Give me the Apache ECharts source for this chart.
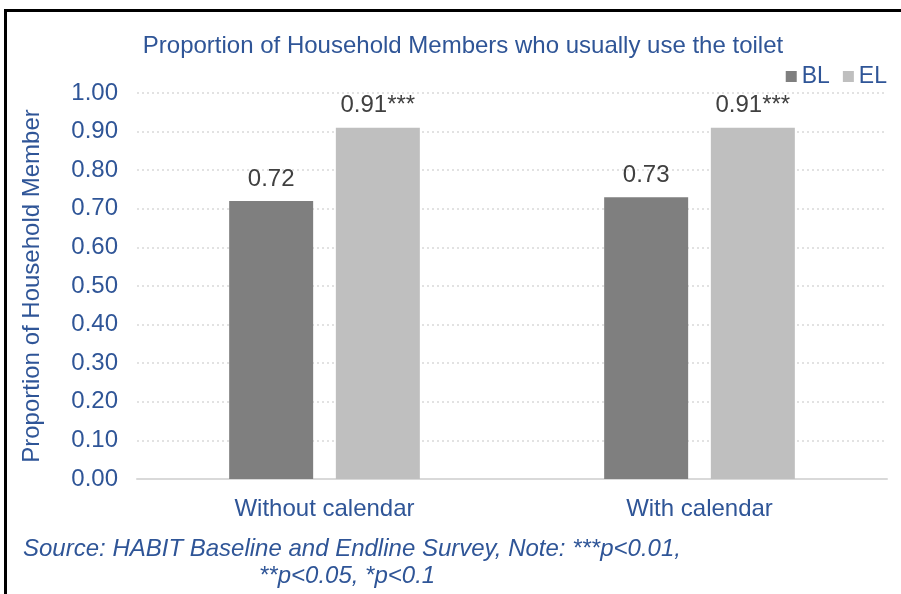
<!DOCTYPE html>
<html>
<head>
<meta charset="utf-8">
<script src="https://cdn.jsdelivr.net/npm/echarts@6/dist/echarts.min.js"></script>
<style>
  html, body { margin: 0; padding: 0; background: #fff; }
  #chart { width: 901px; height: 594px; }
</style>
</head>
<body>
<div id="chart"></div>
<script>
// Chart data
const categories = ['Without calendar', 'With calendar'];
const blValues = [0.72, 0.73];
const elValues = [0.91, 0.91];
const blStars = ['', ''];
const elStars = ['***', '***'];
const yTicks = [0, 0.1, 0.2, 0.3, 0.4, 0.5, 0.6, 0.7, 0.8, 0.9, 1.0];

const BLUE = '#2F5597';
const FONT = '"Liberation Sans", Arial, sans-serif';

const chart = echarts.init(document.getElementById('chart'), null, { renderer: 'canvas' });

function valueLabel(stars) {
  return {
    show: true,
    position: 'top',
    distance: 10,
    color: '#404040',
    fontSize: 24,
    fontFamily: FONT,
    formatter: p => p.value.toFixed(2) + stars[p.dataIndex]
  };
}

chart.setOption({
  backgroundColor: '#fff',
  animation: false,
  title: {
    text: 'Proportion of Household Members who usually use the toilet',
    left: 463,
    textAlign: 'center',
    top: 34,
    padding: 0,
    textStyle: { color: BLUE, fontSize: 24, fontWeight: 'normal', fontFamily: FONT }
  },
  legend: {
    right: 14,
    top: 65,
    padding: 0,
    itemWidth: 11,
    itemHeight: 11,
    itemGap: 13,
    icon: 'rect',
    textStyle: { color: BLUE, fontSize: 23, fontFamily: FONT },
    data: ['BL', 'EL']
  },
  grid: { left: 137, right: 14, top: 93, bottom: 115, containLabel: false },
  xAxis: {
    type: 'category',
    data: categories,
    axisLine: { show: true, lineStyle: { color: '#D9D9D9', width: 2 } },
    axisTick: { show: false },
    axisLabel: { color: BLUE, fontSize: 24, fontFamily: FONT, margin: 18 }
  },
  yAxis: {
    type: 'value',
    min: yTicks[0],
    max: yTicks[yTicks.length - 1],
    interval: 0.1,
    name: 'Proportion of Household Member',
    nameLocation: 'middle',
    nameRotate: 90,
    nameGap: 93,
    nameTextStyle: { color: BLUE, fontSize: 24, fontFamily: FONT },
    axisLine: { show: false },
    axisTick: { show: false },
    axisLabel: {
      color: BLUE, fontSize: 24, fontFamily: FONT, margin: 19,
      formatter: v => v.toFixed(2)
    },
    splitLine: { show: true, lineStyle: { color: '#D9D9D9', type: [2, 3], width: 1.5 } }
  },
  series: [
    {
      name: 'BL',
      type: 'bar',
      data: blValues,
      barWidth: 84,
      barGap: '27%',
      itemStyle: { color: '#7F7F7F' },
      label: valueLabel(blStars)
    },
    {
      name: 'EL',
      type: 'bar',
      data: elValues,
      barWidth: 84,
      itemStyle: { color: '#BFBFBF' },
      label: valueLabel(elStars)
    }
  ],
  graphic: [
    {
      type: 'rect',
      shape: { x: 5.5, y: 10.5, width: 1000, height: 1000 },
      style: { fill: 'none', stroke: '#000', lineWidth: 3 },
      silent: true
    },
    {
      type: 'text',
      left: 23,
      top: 537,
      style: {
        text: 'Source: HABIT Baseline and Endline Survey, Note: ***p<0.01,',
        fill: BLUE, fontSize: 24, fontStyle: 'italic', fontFamily: FONT
      }
    },
    {
      type: 'text',
      left: 259,
      top: 564,
      style: {
        text: '**p<0.05, *p<0.1',
        fill: BLUE, fontSize: 24, fontStyle: 'italic', fontFamily: FONT
      }
    }
  ]
});
</script>
</body>
</html>
